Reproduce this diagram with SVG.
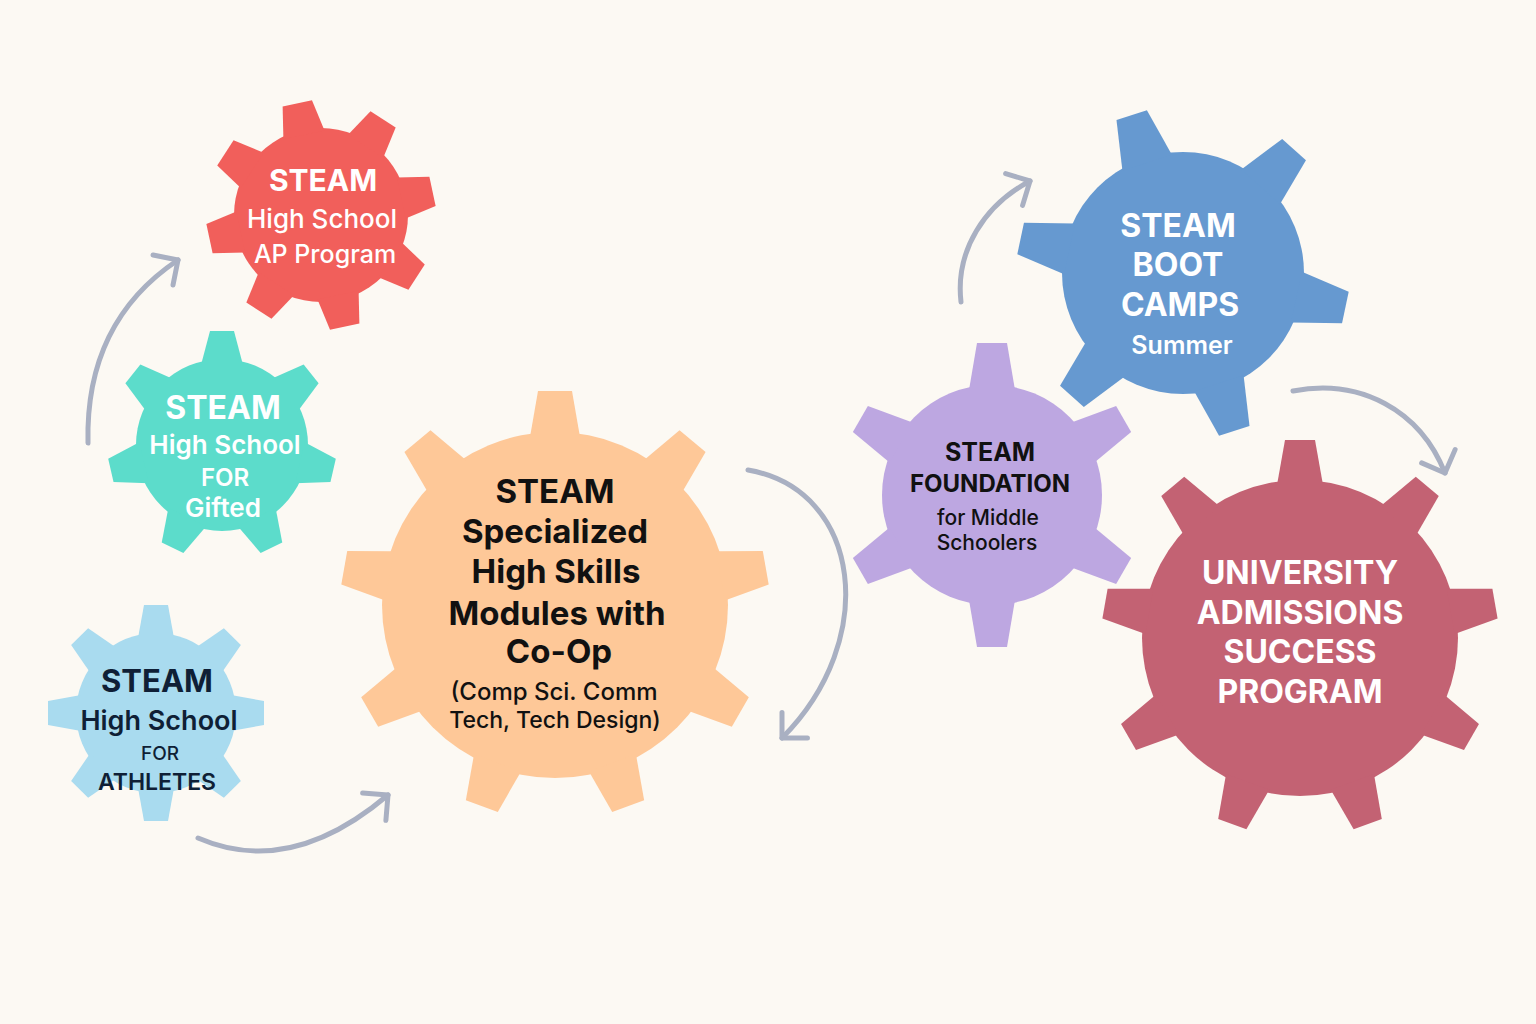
<svg xmlns="http://www.w3.org/2000/svg" xmlns:xlink="http://www.w3.org/1999/xlink" width="1536" height="1024" viewBox="0 0 1536 1024">
<style>
  text { font-family: Inter, "Liberation Sans", "DejaVu Sans", sans-serif; text-anchor: middle; }
  .w { fill: #FFFFFF; }
  .k { fill: #111111; }
  .n { fill: #0F1F36; }
  .b { font-weight: 700; }
  .s { font-weight: 600; }
  .m { font-weight: 500; }
  .conn { fill: none; stroke: #A9B0C2; stroke-width: 5; stroke-linecap: round; marker-end: url(#ah); }
</style>
<defs>
  <marker id="ah" markerUnits="userSpaceOnUse" orient="auto" refX="0" refY="0" markerWidth="40" markerHeight="40" overflow="visible">
    <path d="M-18,-18 L0,0 L-18,18" fill="none" stroke="#A9B0C2" stroke-width="5" stroke-linecap="round" stroke-linejoin="round"/>
  </marker>
  <polygon id="t-red" points="-21,-82 -15,-114 15,-114 21,-82"/>
  <polygon id="t-teal" points="-21,-80 -12,-114 12,-114 21,-80"/>
  <polygon id="t-lb" points="-18,-75 -12,-108 12,-108 18,-75"/>
  <polygon id="t-or" points="-25,-168 -17,-214 17,-214 25,-168"/>
  <polygon id="t-pu" points="-23,-105 -15,-152 15,-152 23,-105"/>
  <polygon id="t-bl" points="-26,-116 -16,-166 16,-166 26,-116"/>
  <polygon id="t-ma" points="-23,-153 -15,-198 15,-198 23,-153"/>
</defs>
<rect x="0" y="0" width="1536" height="1024" fill="#FCF9F3"/>

<g id="connectors">
  <path class="conn" d="M88,443 C86,360 118,300 178,260"/>
  <path class="conn" d="M198,838 Q290,878 388,795"/>
  <path class="conn" d="M748,470 C862,490 880,640 782,738"/>
  <path class="conn" d="M961,302 C955,250 985,205 1030,181"/>
  <path class="conn" d="M1293,391 C1360,378 1420,410 1445,473"/>
</g>

<g id="gear-ap" fill="#F15F5B">
  <g transform="translate(321,215)">
    <circle r="87"/>
    <use xlink:href="#t-red" transform="rotate(-12)"/>
    <use xlink:href="#t-red" transform="rotate(33)"/>
    <use xlink:href="#t-red" transform="rotate(78)"/>
    <use xlink:href="#t-red" transform="rotate(123)"/>
    <use xlink:href="#t-red" transform="rotate(168)"/>
    <use xlink:href="#t-red" transform="rotate(213)"/>
    <use xlink:href="#t-red" transform="rotate(258)"/>
    <use xlink:href="#t-red" transform="rotate(303)"/>
  </g>
  <text class="w b" x="323" y="191" font-size="30">STEAM</text>
  <text class="w m" x="322" y="228" font-size="26">High School</text>
  <text class="w m" x="325" y="263" font-size="25">AP Program</text>
</g>

<g id="gear-gifted" fill="#5CDCCB">
  <g transform="translate(222,445)">
    <circle r="86"/>
    <use xlink:href="#t-teal" transform="rotate(0)"/>
    <use xlink:href="#t-teal" transform="rotate(51.43)"/>
    <use xlink:href="#t-teal" transform="rotate(102.86)"/>
    <use xlink:href="#t-teal" transform="rotate(154.29)"/>
    <use xlink:href="#t-teal" transform="rotate(205.71)"/>
    <use xlink:href="#t-teal" transform="rotate(257.14)"/>
    <use xlink:href="#t-teal" transform="rotate(308.57)"/>
  </g>
  <text class="w b" x="223" y="419" font-size="32">STEAM</text>
  <text class="w s" x="225" y="454" font-size="26">High School</text>
  <text class="w s" x="225" y="486" font-size="24">FOR</text>
  <text class="w s" x="223" y="517" font-size="26">Gifted</text>
</g>

<g id="gear-athletes" fill="#A9DBEF">
  <g transform="translate(156,713)">
    <circle r="80"/>
    <use xlink:href="#t-lb" transform="rotate(0)"/>
    <use xlink:href="#t-lb" transform="rotate(45)"/>
    <use xlink:href="#t-lb" transform="rotate(90)"/>
    <use xlink:href="#t-lb" transform="rotate(135)"/>
    <use xlink:href="#t-lb" transform="rotate(180)"/>
    <use xlink:href="#t-lb" transform="rotate(225)"/>
    <use xlink:href="#t-lb" transform="rotate(270)"/>
    <use xlink:href="#t-lb" transform="rotate(315)"/>
  </g>
  <text class="n b" x="157" y="692" font-size="31">STEAM</text>
  <text class="n s" x="159" y="730" font-size="27">High School</text>
  <text class="n m" x="160" y="760" font-size="19">FOR</text>
  <text class="n s" x="157" y="790" font-size="23">ATHLETES</text>
</g>

<g id="gear-specialized" fill="#FEC898">
  <g transform="translate(555,605)">
    <circle r="173"/>
    <use xlink:href="#t-or" transform="rotate(0)"/>
    <use xlink:href="#t-or" transform="rotate(40)"/>
    <use xlink:href="#t-or" transform="rotate(80)"/>
    <use xlink:href="#t-or" transform="rotate(120)"/>
    <use xlink:href="#t-or" transform="rotate(160)"/>
    <use xlink:href="#t-or" transform="rotate(200)"/>
    <use xlink:href="#t-or" transform="rotate(240)"/>
    <use xlink:href="#t-or" transform="rotate(280)"/>
    <use xlink:href="#t-or" transform="rotate(320)"/>
  </g>
  <text class="k b" x="555" y="503" font-size="33">STEAM</text>
  <text class="k b" x="555" y="543" font-size="33">Specialized</text>
  <text class="k b" x="556" y="583" font-size="33">High Skills</text>
  <text class="k b" x="557" y="625" font-size="33">Modules with</text>
  <text class="k b" x="559" y="663" font-size="33">Co-Op</text>
  <text class="k m" x="554" y="700" font-size="24">(Comp Sci. Comm</text>
  <text class="k m" x="555" y="728" font-size="23">Tech, Tech Design)</text>
</g>

<g id="gear-foundation" fill="#BDA7E1">
  <g transform="translate(992,495)">
    <circle r="110"/>
    <use xlink:href="#t-pu" transform="rotate(0)"/>
    <use xlink:href="#t-pu" transform="rotate(60)"/>
    <use xlink:href="#t-pu" transform="rotate(120)"/>
    <use xlink:href="#t-pu" transform="rotate(180)"/>
    <use xlink:href="#t-pu" transform="rotate(240)"/>
    <use xlink:href="#t-pu" transform="rotate(300)"/>
  </g>
  <text class="k b" x="990" y="461" font-size="25">STEAM</text>
  <text class="k b" x="990" y="492" font-size="24">FOUNDATION</text>
  <text class="k m" x="988" y="525" font-size="21">for Middle</text>
  <text class="k m" x="987" y="550" font-size="21">Schoolers</text>
</g>

<g id="gear-bootcamps" fill="#6699D0">
  <g transform="translate(1183,273)">
    <circle r="121"/>
    <use xlink:href="#t-bl" transform="rotate(-18)"/>
    <use xlink:href="#t-bl" transform="rotate(42)"/>
    <use xlink:href="#t-bl" transform="rotate(102)"/>
    <use xlink:href="#t-bl" transform="rotate(162)"/>
    <use xlink:href="#t-bl" transform="rotate(222)"/>
    <use xlink:href="#t-bl" transform="rotate(282)"/>
  </g>
  <text class="w b" x="1178" y="237" font-size="32">STEAM</text>
  <text class="w b" x="1178" y="276" font-size="32">BOOT</text>
  <text class="w b" x="1180" y="316" font-size="32">CAMPS</text>
  <text class="w s" x="1182" y="354" font-size="25">Summer</text>
</g>

<g id="gear-university" fill="#C36273">
  <g transform="translate(1300,638)">
    <circle r="158"/>
    <use xlink:href="#t-ma" transform="rotate(0)"/>
    <use xlink:href="#t-ma" transform="rotate(40)"/>
    <use xlink:href="#t-ma" transform="rotate(80)"/>
    <use xlink:href="#t-ma" transform="rotate(120)"/>
    <use xlink:href="#t-ma" transform="rotate(160)"/>
    <use xlink:href="#t-ma" transform="rotate(200)"/>
    <use xlink:href="#t-ma" transform="rotate(240)"/>
    <use xlink:href="#t-ma" transform="rotate(280)"/>
    <use xlink:href="#t-ma" transform="rotate(320)"/>
  </g>
  <text class="w b" x="1300" y="584" font-size="32">UNIVERSITY</text>
  <text class="w b" x="1300" y="624" font-size="32">ADMISSIONS</text>
  <text class="w b" x="1300" y="663" font-size="32">SUCCESS</text>
  <text class="w b" x="1300" y="703" font-size="32">PROGRAM</text>
</g>
</svg>
